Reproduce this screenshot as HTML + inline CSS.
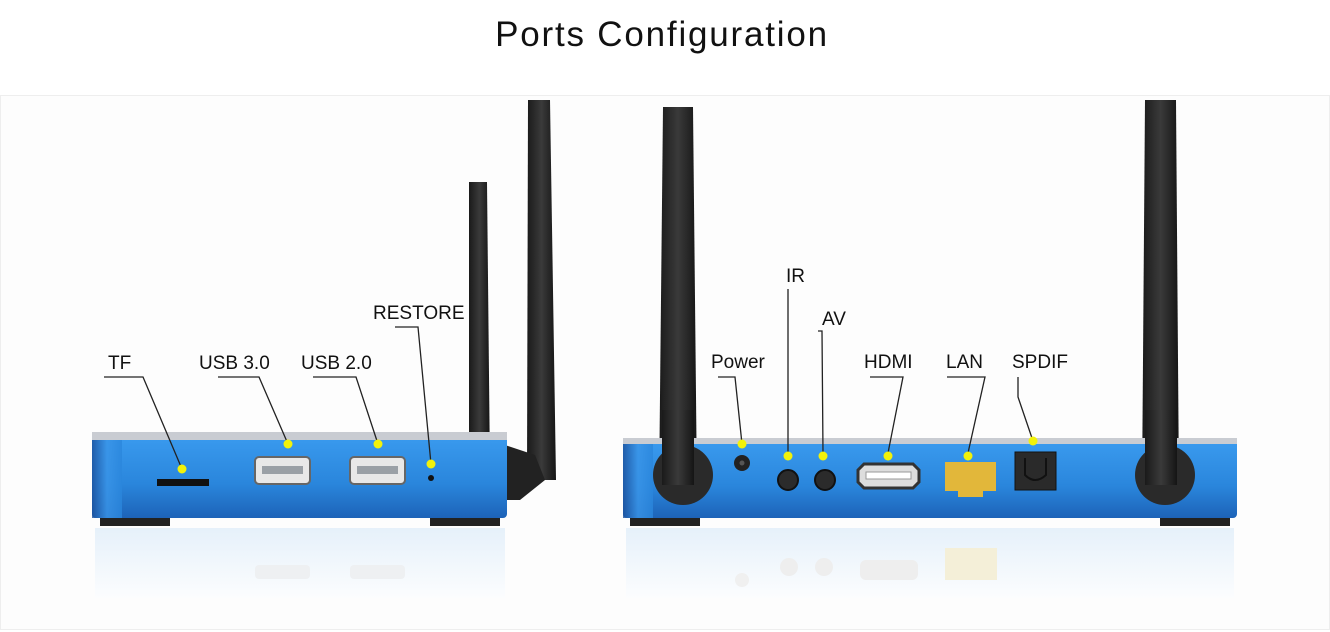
<!DOCTYPE html>
<html><head><style>
html,body{margin:0;padding:0;background:#fff;}
svg{display:block}
text{font-family:"Liberation Sans",sans-serif;fill:#111}
</style></head><body>
<svg width="1330" height="632" viewBox="0 0 1330 632" xmlns="http://www.w3.org/2000/svg">
<defs>
<linearGradient id="blue" x1="0" y1="0" x2="0" y2="1">
<stop offset="0" stop-color="#3b9cf0"/><stop offset="0.6" stop-color="#2a86dc"/><stop offset="1" stop-color="#1d63b8"/>
</linearGradient>
<linearGradient id="side" x1="0" y1="0" x2="1" y2="0">
<stop offset="0" stop-color="#1b4f9a"/><stop offset="0.5" stop-color="#3a95e8"/><stop offset="1" stop-color="#2a86dc"/>
</linearGradient>
<linearGradient id="refl" x1="0" y1="0" x2="0" y2="1">
<stop offset="0" stop-color="#d6e8f8"/><stop offset="1" stop-color="#fbfdff"/>
</linearGradient>
<linearGradient id="ant" x1="0" y1="0" x2="1" y2="0">
<stop offset="0" stop-color="#1a1a1a"/><stop offset="0.5" stop-color="#3a3a3a"/><stop offset="1" stop-color="#151515"/>
</linearGradient>
</defs>
<text x="662" y="46" font-size="35" letter-spacing="1.8" text-anchor="middle">Ports Configuration</text>
<rect x="0.5" y="95.5" width="1329" height="534" fill="#fdfdfd" stroke="#eeeeee"/>

<!-- reflections -->
<rect x="95" y="528" width="410" height="70" fill="url(#refl)" opacity="0.6"/>
<rect x="626" y="528" width="608" height="70" fill="url(#refl)" opacity="0.6"/>
<rect x="255" y="565" width="55" height="14" rx="4" fill="#eef0f2"/>
<rect x="350" y="565" width="55" height="14" rx="4" fill="#eef0f2"/>
<rect x="860" y="560" width="58" height="20" rx="6" fill="#eeeeee"/>
<rect x="945" y="548" width="52" height="32" fill="#f4efd8"/>
<circle cx="789" cy="567" r="9" fill="#eeeeee"/><circle cx="824" cy="567" r="9" fill="#eeeeee"/>
<circle cx="742" cy="580" r="7" fill="#f0f0f0"/>

<!-- left device antennas -->
<path d="M469 182 L487 182 L490 472 L469 472 Z" fill="url(#ant)"/>
<path d="M528 100 L550 100 L556 480 L527 480 Z" fill="url(#ant)"/>
<path d="M505 445 L535 455 L545 480 L520 500 L505 500 Z" fill="#222"/>
<!-- left device -->
<rect x="100" y="512" width="70" height="14" fill="#222"/>
<rect x="430" y="512" width="70" height="14" fill="#222"/>
<rect x="92" y="432" width="415" height="86" rx="4" fill="url(#blue)"/>
<rect x="92" y="432" width="415" height="8" fill="#c9ccd2"/>
<rect x="92" y="440" width="30" height="78" fill="url(#side)" opacity="0.8"/>
<rect x="157" y="479" width="52" height="7" fill="#111"/>
<rect x="255" y="457" width="55" height="27" rx="4" fill="#e8e8e8" stroke="#666" stroke-width="2"/>
<rect x="262" y="466" width="41" height="8" fill="#9aa0a6"/>
<rect x="350" y="457" width="55" height="27" rx="4" fill="#e8e8e8" stroke="#666" stroke-width="2"/>
<rect x="357" y="466" width="41" height="8" fill="#9aa0a6"/>
<circle cx="431" cy="478" r="3" fill="#111"/>

<!-- right device antennas -->
<path d="M663 107 L693 107 L697 492 L659 492 Z" fill="url(#ant)"/>
<path d="M1145 100 L1176 100 L1179 490 L1142 490 Z" fill="url(#ant)"/>
<!-- right device -->
<rect x="630" y="512" width="70" height="14" fill="#222"/>
<rect x="1160" y="512" width="70" height="14" fill="#222"/>
<rect x="623" y="438" width="614" height="80" rx="4" fill="url(#blue)"/>
<rect x="623" y="438" width="614" height="6" fill="#c9ccd2"/>
<rect x="623" y="444" width="30" height="74" fill="url(#side)" opacity="0.8"/>
<circle cx="683" cy="475" r="30" fill="#2a2a2a"/>
<rect x="662" y="410" width="32" height="75" fill="url(#ant)"/>
<circle cx="1165" cy="475" r="30" fill="#2a2a2a"/>
<rect x="1145" y="410" width="32" height="75" fill="url(#ant)"/>
<circle cx="742" cy="463" r="8" fill="#222"/><circle cx="742" cy="463" r="2.5" fill="#555"/>
<circle cx="788" cy="480" r="10" fill="#2b2b2b" stroke="#111" stroke-width="2"/>
<circle cx="825" cy="480" r="10" fill="#2b2b2b" stroke="#111" stroke-width="2"/>
<path d="M858 470 L864 464 L913 464 L919 470 L919 482 L913 488 L864 488 L858 482 Z" fill="#ddd" stroke="#333" stroke-width="3"/>
<rect x="866" y="472" width="45" height="7" fill="#fff" stroke="#999"/>
<path d="M945 462 L996 462 L996 491 L983 491 L983 497 L958 497 L958 491 L945 491 Z" fill="#e2b73a"/>
<rect x="1015" y="452" width="41" height="38" fill="#2a2a2a" stroke="#111"/>
<path d="M1025 458 L1025 475 Q1035 485 1046 475 L1046 458" fill="none" stroke="#111" stroke-width="2"/>

<!-- leader lines -->
<g stroke="#222" stroke-width="1.3" fill="none">
<polyline points="104,377 143,377 182,469"/>
<polyline points="218,377 259,377 288,444"/>
<polyline points="313,377 356,377 378,444"/>
<polyline points="395,327 418,327 431,464"/>
<polyline points="718,377 735,377 742,444"/>
<polyline points="788,289 788,453"/>
<polyline points="818,331 822,331 823,453"/>
<polyline points="870,377 903,377 888,453"/>
<polyline points="947,377 985,377 968,453"/>
<polyline points="1018,377 1018,397 1033,441"/>
</g>
<g fill="#f2f20a">
<circle cx="182" cy="469" r="4.5"/><circle cx="288" cy="444" r="4.5"/><circle cx="378" cy="444" r="4.5"/>
<circle cx="431" cy="464" r="4.5"/><circle cx="742" cy="444" r="4.5"/><circle cx="788" cy="456" r="4.5"/>
<circle cx="823" cy="456" r="4.5"/><circle cx="888" cy="456" r="4.5"/><circle cx="968" cy="456" r="4.5"/><circle cx="1033" cy="441" r="4.5"/>
</g>
<g font-size="19">
<text x="108" y="369">TF</text>
<text x="199" y="369">USB 3.0</text>
<text x="301" y="369">USB 2.0</text>
<text x="373" y="319">RESTORE</text>
<text x="711" y="368">Power</text>
<text x="786" y="282">IR</text>
<text x="822" y="325">AV</text>
<text x="864" y="368">HDMI</text>
<text x="946" y="368">LAN</text>
<text x="1012" y="368">SPDIF</text>
</g>
</svg>
</body></html>
